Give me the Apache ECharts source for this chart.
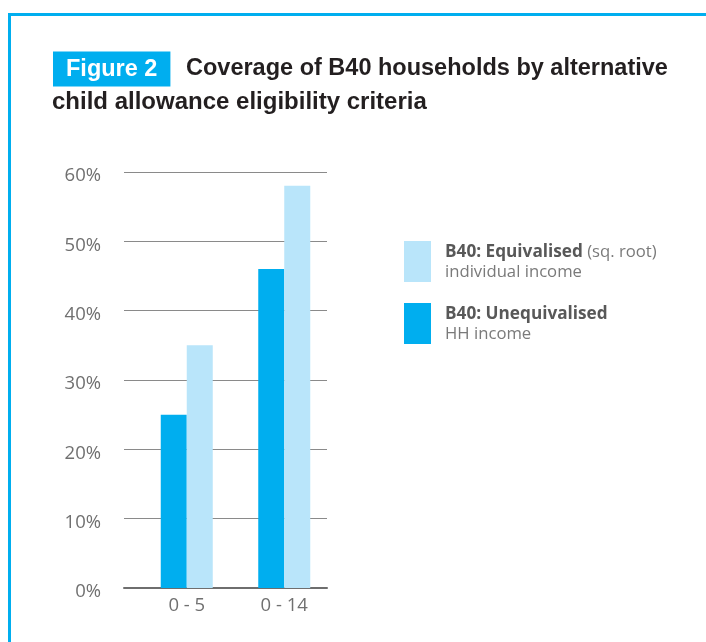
<!DOCTYPE html>
<html>
<head>
<meta charset="utf-8">
<script src="https://cdn.jsdelivr.net/npm/echarts@6/dist/echarts.min.js"></script>
<style>
  html, body { margin: 0; padding: 0; background: #fff; }
  #chart { width: 706px; height: 642px; }
</style>
</head>
<body>
<div id="chart"></div>
<script>
// data
const categories = ['0 - 5', '0 - 14'];
const unequivalised = [25, 46];   // B40: Unequivalised HH income
const equivalised = [35, 58];     // B40: Equivalised (sq. root) individual income
const yMax = 60;
const yStep = 10;

const figLabel = 'Figure 2';
const titleLine1 = 'Coverage of B40 households by alternative';
const titleLine2 = 'child allowance eligibility criteria';

// legend text: bold part, lighter part on first line, second line
const legendNames = ['B40: Equivalised', 'B40: Unequivalised'];
const legendAfter = [' (sq. root)', ''];
const legendLine2 = ['individual income', 'HH income'];

const BLUE = '#00aeef';
const LIGHT = '#b9e5fa';
const AXIS_GREY = '#707070';
const TITLE_FONT = { color: '#231f20', fontSize: 23.5, fontWeight: 'bold', fontFamily: 'Liberation Sans', lineHeight: 23 };

const chart = echarts.init(document.getElementById('chart'));

const option = {
  backgroundColor: '#fff',
  animation: false,
  textStyle: { fontFamily: 'Open Sans' },
  title: [
    {
      text: figLabel,
      left: 53, top: 52,
      backgroundColor: BLUE,
      padding: [6, 13, 5, 13],
      textStyle: Object.assign({}, TITLE_FONT, { color: '#fff' })
    },
    {
      text: titleLine1,
      left: 186, top: 57,
      padding: 0,
      textStyle: TITLE_FONT
    },
    {
      text: titleLine2,
      left: 52, top: 91,
      padding: 0,
      textStyle: Object.assign({}, TITLE_FONT, { fontSize: 24 })
    }
  ],
  graphic: [
    // frame lines on top and left
    { type: 'rect', shape: { x: 8, y: 13, width: 698, height: 3 }, style: { fill: BLUE }, silent: true },
    { type: 'rect', shape: { x: 8, y: 13, width: 3, height: 629 }, style: { fill: BLUE }, silent: true }
  ],
  legend: {
    orient: 'vertical',
    left: 404, top: 241,
    padding: 0,
    icon: 'rect',
    itemWidth: 27, itemHeight: 41, itemGap: 21,
    selectedMode: false,
    data: legendNames,
    formatter: name => {
      const i = legendNames.indexOf(name);
      let first = '{b|' + name + '}';
      if (legendAfter[i]) first += '{n|' + legendAfter[i] + '}';
      return first + '\n{n|' + legendLine2[i] + '}';
    },
    textStyle: {
      padding: [2, 0, 0, 9],
      rich: {
        b: { fontSize: 17.2, fontWeight: 'bold', color: '#585858', lineHeight: 20, fontFamily: 'Open Sans' },
        n: { fontSize: 16.7, color: '#7a7a7a', lineHeight: 20, fontFamily: 'Open Sans' }
      }
    }
  },
  grid: [
    // grid for the gridlines and y labels
    { left: 124, top: 172, width: 203, bottom: 54 },
    // grid for the bars
    { left: 138, top: 172, width: 195, bottom: 54 }
  ],
  xAxis: [
    {
      type: 'category', gridIndex: 0, data: categories,
      axisLine: { show: true, lineStyle: { color: '#6e6e6e', width: 2 } },
      axisTick: { show: false }, axisLabel: { show: false }
    },
    {
      type: 'category', gridIndex: 1, data: categories,
      axisLine: { show: false }, axisTick: { show: false },
      axisLabel: { color: AXIS_GREY, fontSize: 18.5, margin: 8, fontFamily: 'Open Sans' }
    }
  ],
  yAxis: [
    {
      type: 'value', gridIndex: 0, min: 0, max: yMax, interval: yStep,
      axisLine: { show: false }, axisTick: { show: false },
      axisLabel: {
        formatter: v => '{t|' + v + '%}',
        margin: 23,
        rich: { t: { color: AXIS_GREY, fontSize: 18.5, fontFamily: 'Open Sans', padding: [8, 0, 0, 0] } }
      },
      splitLine: { lineStyle: { color: '#8a8a8a', width: 1 } }
    },
    {
      type: 'value', gridIndex: 1, min: 0, max: yMax, interval: yStep, show: false,
      splitLine: { show: false }
    }
  ],
  series: [
    {
      name: legendNames[1], type: 'bar', xAxisIndex: 1, yAxisIndex: 1,
      data: unequivalised, barWidth: 26, barGap: '0%',
      itemStyle: { color: BLUE }
    },
    {
      name: legendNames[0], type: 'bar', xAxisIndex: 1, yAxisIndex: 1,
      data: equivalised, barWidth: 26, barGap: '0%',
      itemStyle: { color: LIGHT }
    }
  ]
};

chart.setOption(option);
</script>
</body>
</html>
